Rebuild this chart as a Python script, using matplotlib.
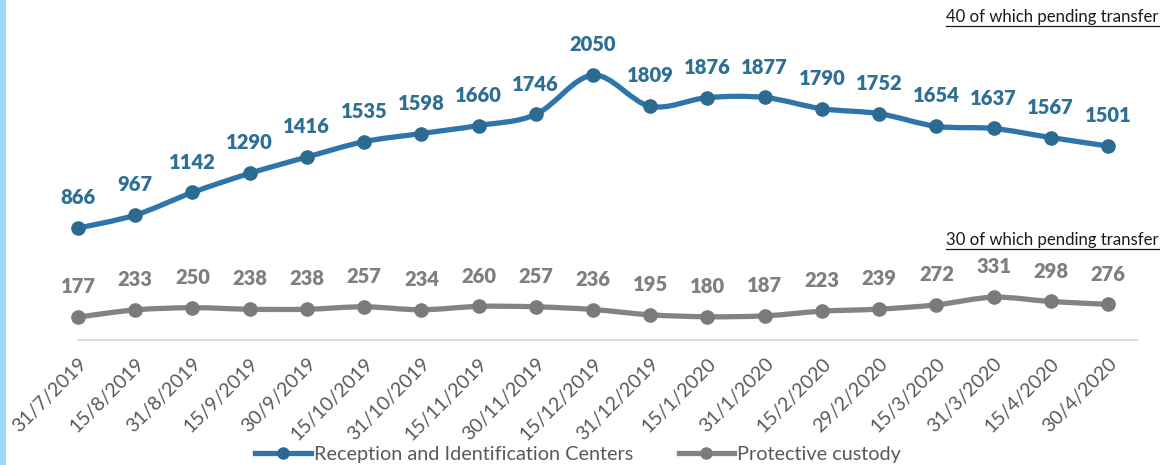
import numpy as np
import matplotlib.pyplot as plt
from matplotlib.path import Path
from matplotlib.patches import PathPatch
from matplotlib.lines import Line2D

dates = ['31/7/2019', '15/8/2019', '31/8/2019', '15/9/2019', '30/9/2019',
         '15/10/2019', '31/10/2019', '15/11/2019', '30/11/2019', '15/12/2019',
         '31/12/2019', '15/1/2020', '31/1/2020', '15/2/2020', '29/2/2020',
         '15/3/2020', '31/3/2020', '15/4/2020', '30/4/2020']
ric = [866, 967, 1142, 1290, 1416, 1535, 1598, 1660, 1746, 2050,
       1809, 1876, 1877, 1790, 1752, 1654, 1637, 1567, 1501]
custody = [177, 233, 250, 238, 238, 257, 234, 260, 257, 236,
           195, 180, 187, 223, 239, 272, 331, 298, 276]

blue_line = '#2E75AC'
blue_mark = '#2C6A92'
blue_text = '#2E6F94'
gray_line = '#838383'
gray_mark = '#7A7A7A'
gray_text = '#7F7F7F'

plt.rcParams['font.family'] = ['Lato', 'DejaVu Sans']


def smooth_path(x, y, t=0.5):
    # catmull-rom style bezier through the points, like excel's smoothed line
    x = np.asarray(x, float)
    y = np.asarray(y, float)
    n = len(x)
    verts = [(x[0], y[0])]
    codes = [Path.MOVETO]
    for i in range(n - 1):
        x0, y0 = (x[i - 1], y[i - 1]) if i > 0 else (x[i], y[i])
        x3, y3 = (x[i + 2], y[i + 2]) if i + 2 < n else (x[i + 1], y[i + 1])
        c1 = (x[i] + (x[i + 1] - x0) * t / 3, y[i] + (y[i + 1] - y0) * t / 3)
        c2 = (x[i + 1] - (x3 - x[i]) * t / 3, y[i + 1] - (y3 - y[i]) * t / 3)
        verts += [c1, c2, (x[i + 1], y[i + 1])]
        codes += [Path.CURVE4] * 3
    return Path(verts, codes)


fig = plt.figure(figsize=(11.63, 4.65), dpi=100)
ax = fig.add_axes([78 / 1163, 125 / 465, 1030 / 1163, 323 / 465])
xs = np.arange(len(dates))

for vals, lc, mc, tc, lab in [(ric, blue_line, blue_mark, blue_text, 'Reception and Identification Centers'),
                              (custody, gray_line, gray_mark, gray_text, 'Protective custody')]:
    ax.add_patch(PathPatch(smooth_path(xs, vals), fill=False, edgecolor=lc,
                           lw=3.8, capstyle='round', clip_on=False))
    ax.plot(xs, vals, ls='none', marker='o', ms=9.5, color=mc, clip_on=False, zorder=3)
    ax.plot([], [], color=lc, lw=3.8, marker='o', ms=8, mfc=mc, mec=mc, label=lab)
    for xi, v in zip(xs, vals):
        ax.annotate(str(v), (xi, v), xytext=(0, 15), textcoords='offset points',
                    ha='center', va='bottom', fontsize=14.5, fontweight='heavy', color=tc)

ax.set_xlim(0, len(dates) - 1)
ax.set_ylim(0, 2500)
ax.set_yticks([])
for s in ['top', 'right', 'left']:
    ax.spines[s].set_visible(False)
ax.spines['bottom'].set_color('#D9D9D9')
ax.spines['bottom'].set_linewidth(1.3)
ax.spines['bottom'].set_bounds(0, len(dates) - 0.5)
ax.set_xticks(xs)
ax.set_xticklabels(dates, rotation=45, ha='right', rotation_mode='anchor',
                   fontsize=14, color='#595959')
ax.tick_params(axis='x', length=0, pad=11)

ax.legend(loc='center', bbox_to_anchor=(0.5 - 15 / 1030, -114 / 323), ncol=2, frameon=False,
          fontsize=14.3, labelcolor='#595959', handlelength=2.8, handletextpad=0.15,
          columnspacing=2.3)

notes = []
for txt, ypx in [('40 of which pending transfer', 17), ('30 of which pending transfer', 240)]:
    notes.append(fig.text(946 / 1163, 1 - ypx / 465, txt, fontsize=12.1,
                          color='#1A1A1A', ha='left', va='center'))

# underline the notes
fig.canvas.draw()
for t in notes:
    bb = t.get_window_extent()
    yy = (bb.y0 - 1) / 465
    fig.add_artist(Line2D([bb.x0 / 1163, bb.x1 / 1163], [yy, yy],
                          transform=fig.transFigure, color='#1A1A1A', lw=0.9))

# light blue strip on the left edge
fig.add_artist(plt.Rectangle((0, 0), 6 / 1163, 1, transform=fig.transFigure,
                             color='#9DD8FF', lw=0))

fig.savefig('out.png', dpi=100)
